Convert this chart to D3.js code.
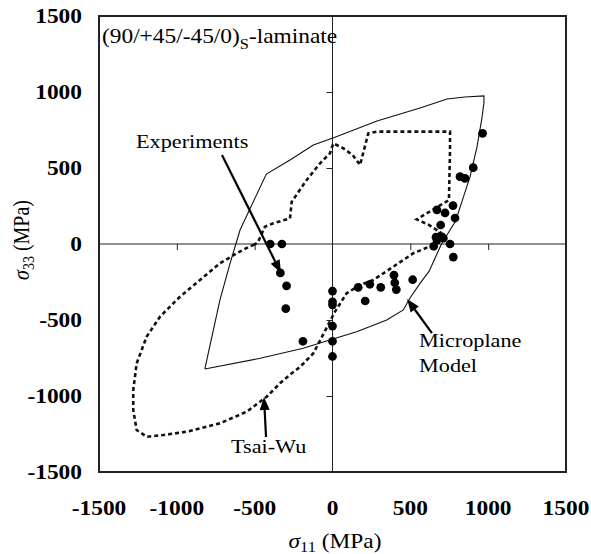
<!DOCTYPE html>
<html><head><meta charset="utf-8">
<script src="https://cdn.jsdelivr.net/npm/d3@7"></script>
<style>body{margin:0;background:#fff}</style>
</head><body>
<svg id="c" width="591" height="554"></svg>
<script>
// ---- data ----
const xTicks = [-1500, -1000, -500, 0, 500, 1000, 1500];
const yTicks = [-1500, -1000, -500, 0, 500, 1000, 1500];
const innerTicks = [-1000, -500, 500, 1000];

// Microplane model (solid)
const microX = [-820,-723,-658,-594,-425,-273,-123,3,286,562,736,851,973,973,958,928,883,835,790,755,700,660,620,562,495,455,348,155,3,-188,-464,-820];
const microY = [-822,-368,-127,92,460,553,651,697,809,895,954,967,974,930,816,638,440,290,150,92,0,-90,-180,-259,-360,-434,-500,-577,-625,-686,-752,-822];

// Tsai-Wu (dashed)
const tsaiX = [-509,-480,-434,-380,-273,-262,-166,-80,-16,5,69,130,177,230,284,755,755,748,541,620,690,646,519,391,262,177,91,16,-37,-123,-209,-273,-337,-423,-551,-723,-937,-1087,-1194,-1258,-1280,-1280,-1258,-1194,-1108,-980,-851,-723,-615,-540,-509];
const tsaiY = [-7,10,114,136,169,278,421,531,597,662,630,585,520,728,739,739,618,289,162,125,79,-7,-61,-149,-237,-270,-324,-445,-550,-719,-809,-860,-916,-1005,-1103,-1180,-1235,-1257,-1268,-1224,-1092,-961,-785,-610,-478,-347,-237,-127,-61,-20,-7];

// Experiments (points)
const expX = [-400,-325,-335,-295,-300,-190,0,0,0,0,0,0,165,240,310,210,395,400,410,515,650,665,700,755,776,723,671,774,787,695,712,819,851,904,964,671];
const expY = [0,0,-190,-275,-425,-640,-310,-380,-400,-540,-640,-740,-285,-265,-285,-375,-205,-255,-300,-235,-15,45,48,0,-86,204,224,253,171,125,38,443,432,502,728,26];

// ---- layout ----
const svg = d3.select('#c');
const x = d3.scaleLinear().domain([-1500, 1500]).range([99, 566]);
const y = d3.scaleLinear().domain([-1500, 1500]).range([472, 16]);
const SX = 1.17;
const FONT = '"Liberation Serif","Times New Roman",serif';

svg.append('rect').attr('width', 591).attr('height', 554).attr('fill', '#fff');

// zero lines
svg.append('line').attr('x1', x(-1500)).attr('x2', x(1500)).attr('y1', y(0)).attr('y2', y(0))
  .attr('stroke', '#222').attr('stroke-width', 1);
svg.append('line').attr('x1', x(0)).attr('x2', x(0)).attr('y1', y(-1500)).attr('y2', y(1500))
  .attr('stroke', '#222').attr('stroke-width', 1);

// inner ticks via d3 axes
const gx0 = svg.append('g').attr('transform', `translate(0,${y(0)})`)
  .call(d3.axisBottom(x).tickValues(innerTicks).tickSize(6).tickFormat(''));
const gy0 = svg.append('g').attr('transform', `translate(${x(0)},0)`)
  .call(d3.axisLeft(y).tickValues(innerTicks).tickSize(6).tickFormat(''));
[gx0, gy0].forEach(g => { g.select('.domain').remove(); g.selectAll('line').attr('stroke', '#222').attr('stroke-width', 1); });

// tick labels (outside box)
function stretchText(sel) {
  sel.each(function () {
    const t = d3.select(this);
    const tx = +t.attr('x') || 0, ty = +t.attr('y') || 0;
    t.attr('transform', `translate(${tx},${ty}) scale(${SX},1)`).attr('x', 0).attr('y', 0);
  });
}
svg.append('g').selectAll('text').data(xTicks).join('text')
  .attr('x', d => x(d)).attr('y', 515).attr('text-anchor', 'middle')
  .style('font-family', FONT).style('font-size', '20px').style('font-weight', 'bold')
  .text(d => d).call(stretchText);
svg.append('g').selectAll('text').data(yTicks).join('text')
  .attr('x', 82).attr('y', d => y(d) + 7).attr('text-anchor', 'end')
  .style('font-family', FONT).style('font-size', '20px').style('font-weight', 'bold')
  .text(d => d).call(stretchText);

// curves
const line = d3.line().x(d => x(d[0])).y(d => y(d[1]));
svg.append('path').datum(microX.map((v, i) => [v, microY[i]]))
  .attr('d', line).attr('fill', 'none').attr('stroke', '#111').attr('stroke-width', 1.1);
svg.append('path').datum(tsaiX.map((v, i) => [v, tsaiY[i]]))
  .attr('d', line).attr('fill', 'none').attr('stroke', '#111').attr('stroke-width', 2.6)
  .attr('stroke-dasharray', '4,3');

// experiments
svg.append('g').selectAll('path').data(expX.map((v, i) => [v, expY[i]])).join('path')
  .attr('transform', d => `translate(${x(d[0])},${y(d[1])})`)
  .attr('d', d3.symbol(d3.symbolCircle, 60)).attr('fill', '#000');

// frame
svg.append('rect').attr('x', x(-1500)).attr('y', y(1500)).attr('width', x(1500) - x(-1500))
  .attr('height', y(-1500) - y(1500)).attr('fill', 'none').attr('stroke', '#222').attr('stroke-width', 2);

// annotation arrows (data coords)
const arrows = [
  { from: [-710, 586], to: [-331, -191] },
  { from: [-427, -1270], to: [-440, -1007] },
  { from: [639, -586], to: [479, -362] }
];
arrows.forEach(a => {
  const x1 = x(a.from[0]), y1 = y(a.from[1]), x2 = x(a.to[0]), y2 = y(a.to[1]);
  const ang = Math.atan2(y2 - y1, x2 - x1), L = 13, Wd = 5;
  const bx = x2 - L * Math.cos(ang), by = y2 - L * Math.sin(ang);
  svg.append('line').attr('x1', x1).attr('y1', y1).attr('x2', bx).attr('y2', by)
    .attr('stroke', '#000').attr('stroke-width', 2.2);
  const px = -Math.sin(ang) * Wd, py = Math.cos(ang) * Wd;
  svg.append('path').attr('d', `M${x2},${y2}L${bx + px},${by + py}L${bx - px},${by - py}Z`).attr('fill', '#000');
});

// text helper
function label(px, py, parts, size, opts = {}) {
  const rot = opts.rotate ? ' rotate(-90)' : '';
  const t = svg.append('text')
    .attr('transform', `translate(${px},${py}) scale(${SX},1)${rot}`)
    .attr('text-anchor', opts.anchor || 'start')
    .style('font-family', FONT).style('font-size', size + 'px').attr('fill', '#000');
  let shift = 0;
  parts.forEach(p => {
    const s = t.append('tspan').text(p.t);
    if (p.i) s.style('font-style', 'italic');
    if (p.sub) {
      s.style('font-size', (size * 0.7) + 'px').attr('dy', p.sub - shift); shift = p.sub;
    } else if (shift) { s.attr('dy', -shift); shift = 0; }
  });
  return t;
}

label(x(-1481), y(1322), [{ t: '(90/+45/-45/0)' }, { t: 'S', sub: 6 }, { t: '-laminate' }], 20);
label(x(-1262), y(632), [{ t: 'Experiments' }], 19);
label(x(-652), y(-1375), [{ t: 'Tsai-Wu' }], 19);
label(x(556), y(-678), [{ t: 'Microplane' }], 19);
label(x(556), y(-842), [{ t: 'Model' }], 19);

// axis titles
label(335, 548, [{ t: 'σ', i: true }, { t: '11', sub: 4 }, { t: ' (MPa)' }], 20, { anchor: 'middle' });
label(29, 240, [{ t: 'σ', i: true }, { t: '33', sub: 4 }, { t: ' (MPa)' }], 20, { anchor: 'middle', rotate: true });
</script>
</body></html>
